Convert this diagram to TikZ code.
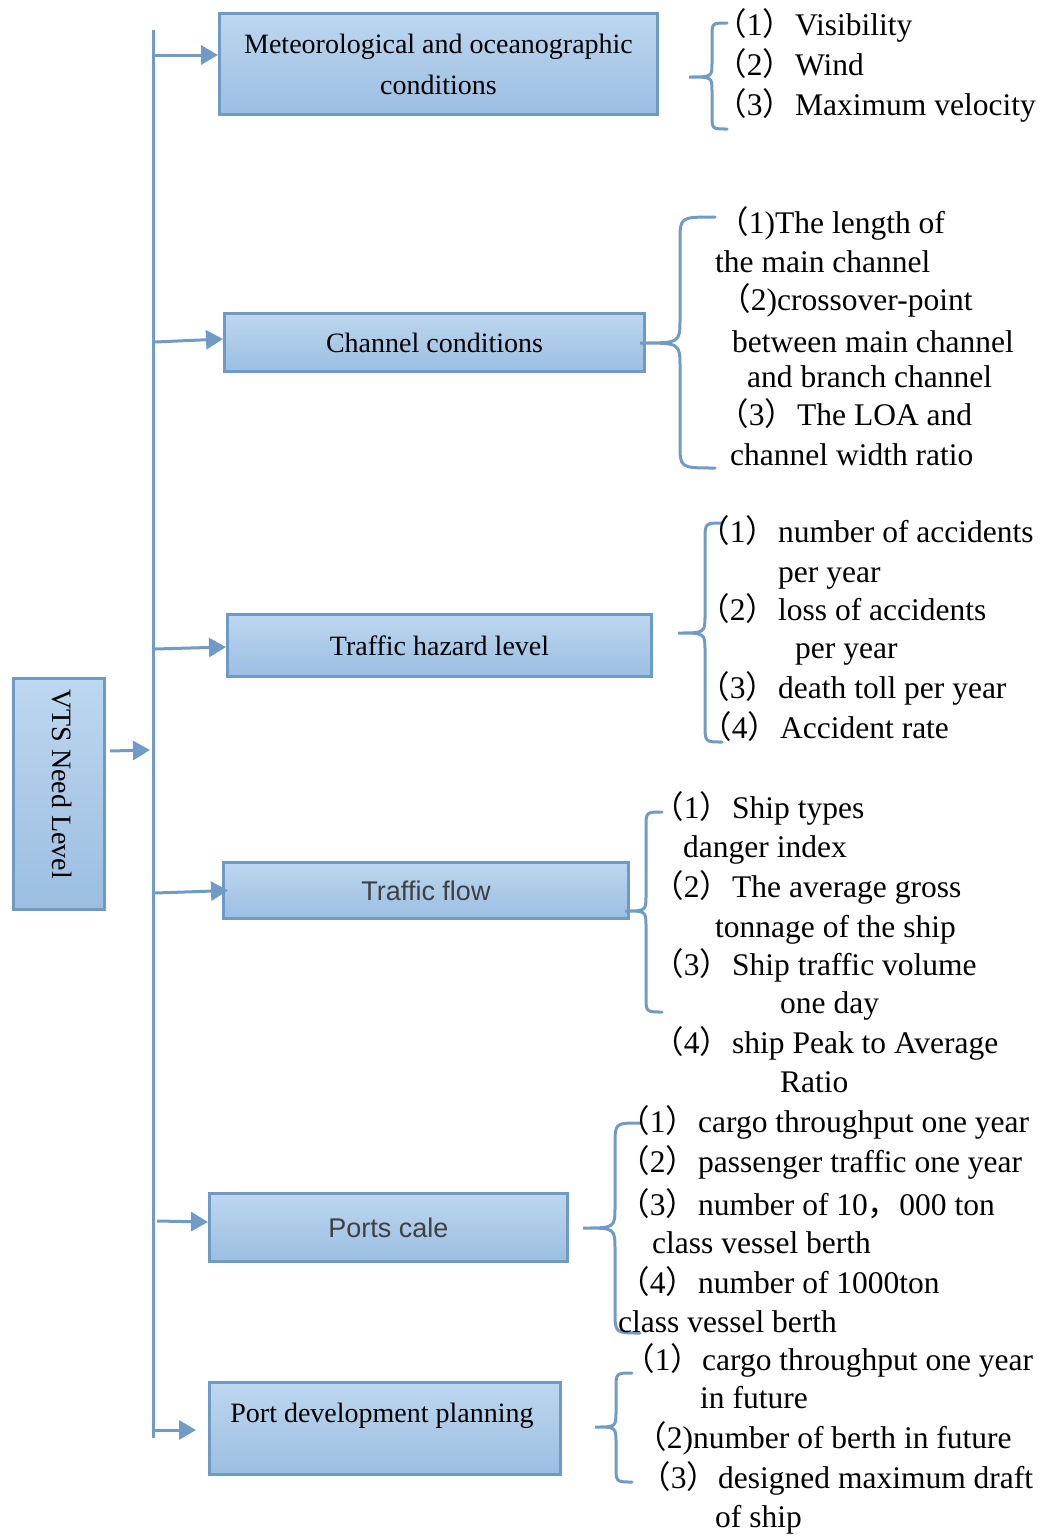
\documentclass[tikz,border=0pt]{standalone}
\usepackage{fontspec}
\setmainfont{Liberation Serif}
\newfontfamily\cjkfont{Noto Sans CJK SC}
\newfontfamily\arialfont{Liberation Sans}
\usetikzlibrary{arrows.meta}
\definecolor{lnblue}{HTML}{6F9BC6}
\definecolor{boxtop}{HTML}{BDD7EF}
\definecolor{boxbot}{HTML}{9BBEE2}
\definecolor{boxedge}{HTML}{6E9AC5}
\definecolor{greytext}{HTML}{404040}
\newcommand\lp{{\cjkfont （}}
\newcommand\rp{{\cjkfont ）}}
\newcommand\fc{{\cjkfont ，}}
\newcommand\itemsize{\fontsize{31.5}{38}\selectfont}
\newcommand\boxsize{\fontsize{28}{41}\selectfont}
\newcommand\sanssize{\arialfont\fontsize{27}{32}\selectfont}
\newcommand\pre[1]{\llap{\lp#1\rp\hspace{1pt}}}
\newcommand\mybrace[7]{%
  \draw[brc] (#6,#4) .. controls (#3,#4) .. (#3,{#4+#7}) -- (#3,{#2-#7})
    .. controls (#3,#2) .. (#1,#2) .. controls (#3,#2) .. (#3,{#2+#7})
    -- (#3,{#5-#7}) .. controls (#3,#5) .. (#6,#5);}
\tikzset{
  box/.style={draw=boxedge, line width=3pt, top color=boxtop, bottom color=boxbot,
    inner sep=0pt, font=\boxsize, align=center},
  conn/.style={draw=lnblue, line width=3pt, -{Triangle[length=17pt,width=19pt]}},
  brc/.style={draw=lnblue, line width=3pt, line cap=round},
  itm/.style={anchor=base west, inner sep=0pt, font=\itemsize},
}
\begin{document}
\begin{tikzpicture}[x=1pt,y=-1pt]
\useasboundingbox (0,0) rectangle (1045,1537);

% boxes
\node[box, minimum width=438pt, minimum height=101pt] (meteo) at (438.5,64) {Meteorological and oceanographic\\conditions};
\node[box, minimum width=420pt, minimum height=58pt] (channel) at (434.5,342.5) {Channel conditions};
\node[box, minimum width=424pt, minimum height=62pt] (hazard) at (439.5,645.5) {Traffic hazard level};
\node[box, minimum width=405pt, minimum height=56pt, font=\sanssize, text=greytext] (flow) at (426,890.5) {Traffic flow};
\node[box, minimum width=358pt, minimum height=68pt, font=\sanssize, text=greytext] (ports) at (388.5,1227.5) {Ports cale};
\node[box, minimum width=351pt, minimum height=92pt] (dev) at (385,1428.5) {};
\node[font=\boxsize, inner sep=0pt] (devlabel) at (382,1416) {Port development planning};
\node[box, minimum width=91pt, minimum height=231pt] (vts) at (59,794) {};
\node[font=\boxsize, rotate=-90, inner sep=0pt] (vtslabel) at (62,784) {VTS Need Level};

% spine
\coordinate (sTop) at (153,30);
\coordinate (sBot) at (153,1438);
\draw[brc, line cap=butt] (sTop) -- (sBot);

% arrows
\coordinate (a0) at (150,750);
\draw[conn] ([xshift=4pt,yshift=43pt]vts.east) -- (a0);
\coordinate (a1) at (155,55);
\draw[conn] (a1) -- ([yshift=9pt]meteo.west);
\coordinate (a2) at (155,342);
\draw[conn] (a2) -- ([yshift=3.5pt]channel.west);
\coordinate (a3) at (155,649);
\draw[conn] (a3) -- ([yshift=-1.5pt]hazard.west);
\coordinate (a4) at (155,893);
\draw[conn] (a4) -- ([xshift=6pt]flow.west);
\coordinate (a5) at (157,1221);
\draw[conn] (a5) -- ([yshift=5.5pt]ports.west);
\coordinate (a6) at (155,1430);
\draw[conn] (a6) -- ([xshift=-12pt,yshift=-1.5pt]dev.west);

% braces
\mybrace{689}{77}{712}{23}{129}{727}{14}
\mybrace{640}{343}{680}{217}{468}{715}{24}
\mybrace{678}{633}{705}{523}{742}{722}{18}
\mybrace{625}{911}{646}{812}{1012}{662}{16}
\mybrace{583}{1228}{615}{1123}{1333}{640}{22}
\mybrace{595}{1427}{616}{1373}{1482}{632}{16}

% meteo items
\node[itm] (m1) at (795,35) {\pre{1}Visibility};
\node[itm] (m2) at (795,75) {\pre{2}Wind};
\node[itm] (m3) at (795,115) {\pre{3}Maximum velocity};

% channel items
\node[itm] (c1) at (775,233) {\llap{\lp1)}The length of};
\node[itm] (c2) at (715,272) {the main channel};
\node[itm] (c3) at (777,310) {\llap{\lp2)}crossover-point};
\node[itm] (c4) at (732,352) {between main channel};
\node[itm] (c5) at (747,387) {and branch channel};
\node[itm] (c6) at (797,425) {\pre{3}The LOA and};
\node[itm] (c7) at (730,465) {channel width ratio};

% hazard items
\node[itm] (h1) at (778,542) {\pre{1}number of accidents};
\node[itm] (h2) at (778,582) {per year};
\node[itm] (h3) at (778,620) {\pre{2}loss of accidents};
\node[itm] (h4) at (795,658) {per year};
\node[itm] (h5) at (778,698) {\pre{3}death toll per year};
\node[itm] (h6) at (780,738) {\pre{4}Accident rate};

% flow items
\node[itm] (f1) at (732,818) {\pre{1}Ship types};
\node[itm] (f2) at (683,857) {danger index};
\node[itm] (f3) at (732,897) {\pre{2}The average gross};
\node[itm] (f4) at (715,937) {tonnage of the ship};
\node[itm] (f5) at (732,975) {\pre{3}Ship traffic volume};
\node[itm] (f6) at (780,1013) {one day};
\node[itm] (f7) at (732,1053) {\pre{4}ship Peak to Average};
\node[itm] (f8) at (780,1092) {Ratio};

% ports items
\node[itm] (p1) at (698,1132) {\pre{1}cargo throughput one year};
\node[itm] (p2) at (698,1172) {\pre{2}passenger traffic one year};
\node[itm] (p3) at (698,1215) {\pre{3}number of 10\fc 000 ton};
\node[itm] (p4) at (652,1253) {class vessel berth};
\node[itm] (p5) at (698,1293) {\pre{4}number of 1000ton};
\node[itm] (p6) at (618,1332) {class vessel berth};

% dev items
\node[itm] (d1) at (702,1370) {\llap{\lp1\rp}cargo throughput one year};
\node[itm] (d2) at (700,1408) {in future};
\node[itm] (d3) at (693,1448) {\llap{\lp2)}number of berth in future};
\node[itm] (d4) at (718,1488) {\llap{\lp3\rp}designed maximum draft};
\node[itm] (d5) at (715,1527) {of ship};
\end{tikzpicture}
\end{document}
